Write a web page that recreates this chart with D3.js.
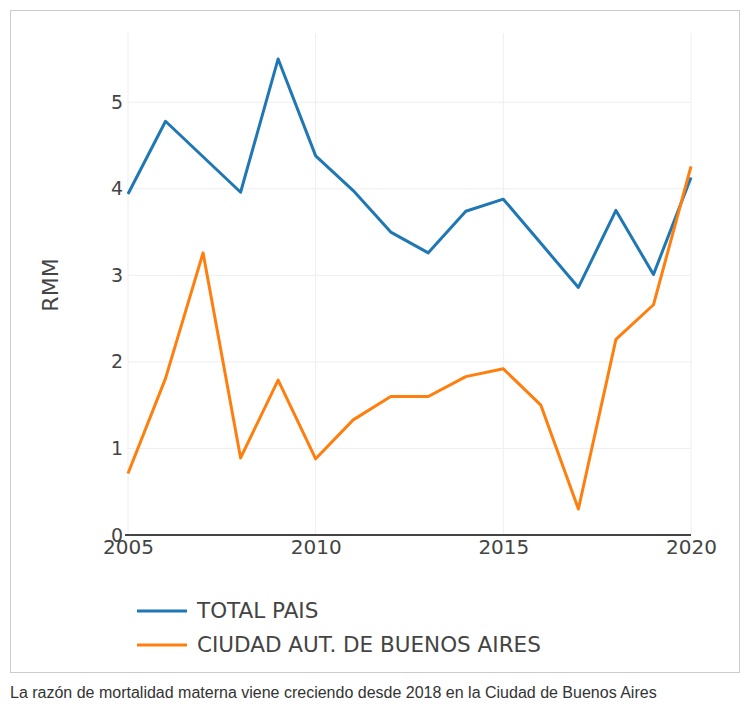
<!DOCTYPE html>
<html>
<head>
<meta charset="utf-8">
<script src="https://cdn.jsdelivr.net/npm/d3@7"></script>
<style>
  html, body { margin: 0; padding: 0; background: #fff; }
  svg { display: block; }
</style>
</head>
<body>
<svg id="chart" width="753" height="710"></svg>
<script>
const years = [2005,2006,2007,2008,2009,2010,2011,2012,2013,2014,2015,2016,2017,2018,2019,2020];
const totalPais = [3.94,4.78,4.37,3.96,5.50,4.38,3.98,3.50,3.26,3.74,3.88,3.37,2.86,3.75,3.01,4.13];
const caba = [0.71,1.81,3.26,0.89,1.79,0.88,1.33,1.60,1.60,1.83,1.92,1.50,0.30,2.26,2.66,4.26];
const seriesNames = ["TOTAL PAIS", "CIUDAD AUT. DE BUENOS AIRES"];
const seriesColors = ["#1f77b4", "#ff7f0e"];
const xTicks = [2005, 2010, 2015, 2020];
const yTicks = [0, 1, 2, 3, 4, 5];
const yTitle = "RMM";
const caption = "La razón de mortalidad materna viene creciendo desde 2018 en la Ciudad de Buenos Aires";

const svg = d3.select("#chart");
const font = "'DejaVu Sans', Verdana, sans-serif";

// outer frame
svg.append("rect").attr("x", 10.5).attr("y", 10.5).attr("width", 729).attr("height", 662)
  .attr("fill", "#fff").attr("stroke", "#cccccc").attr("stroke-width", 1);

const plot = {left: 128, right: 691, top: 33, bottom: 535};
const x = d3.scaleLinear().domain([2005, 2020]).range([plot.left, plot.right]);
const y = d3.scaleLinear().domain([0, 5.8]).range([plot.bottom, plot.top]);

// grid
const g = svg.append("g");
g.append("g").selectAll("line").data(xTicks).join("line")
  .attr("x1", d => x(d)).attr("x2", d => x(d)).attr("y1", plot.top).attr("y2", plot.bottom)
  .attr("stroke", "#eeeeee").attr("stroke-width", 1);
g.append("g").selectAll("line").data(yTicks.filter(d => d > 0)).join("line")
  .attr("x1", plot.left).attr("x2", plot.right).attr("y1", d => y(d)).attr("y2", d => y(d))
  .attr("stroke", "#eeeeee").attr("stroke-width", 1);

// y axis labels
const yAxis = d3.axisLeft(y).tickValues(yTicks).tickSize(0).tickPadding(5).tickFormat(d3.format("d"));
const ya = svg.append("g").attr("transform", `translate(${plot.left},0)`).call(yAxis);
ya.select(".domain").remove();
ya.selectAll("text").attr("font-family", font).attr("font-size", 19).attr("fill", "#444");

// x axis labels
const xAxis = d3.axisBottom(x).tickValues(xTicks).tickSize(0).tickPadding(5).tickFormat(d3.format("d"));
const xa = svg.append("g").attr("transform", `translate(0,${plot.bottom})`).call(xAxis);
xa.select(".domain").remove();
xa.selectAll("text").attr("font-family", font).attr("font-size", 20).attr("fill", "#444");

// zero line
svg.append("line").attr("x1", plot.left - 3).attr("x2", plot.right)
  .attr("y1", y(0)).attr("y2", y(0)).attr("stroke", "#444").attr("stroke-width", 2);

// y title
svg.append("text").attr("transform", `translate(58,285) rotate(-90)`)
  .attr("text-anchor", "middle").attr("font-family", font).attr("font-size", 22).attr("fill", "#444")
  .text(yTitle);

// lines
const line = d3.line().x((d, i) => x(years[i])).y(d => y(d));
[totalPais, caba].forEach((s, k) => {
  svg.append("path").datum(s).attr("d", line).attr("fill", "none")
    .attr("stroke", seriesColors[k]).attr("stroke-width", 3).attr("stroke-linejoin", "round");
});

// legend
const lg = svg.append("g");
seriesNames.forEach((n, k) => {
  const ly = 611 + k * 34;
  lg.append("line").attr("x1", 137).attr("x2", 187).attr("y1", ly).attr("y2", ly)
    .attr("stroke", seriesColors[k]).attr("stroke-width", 3);
  lg.append("text").attr("x", 197).attr("y", ly + 7).attr("font-family", font)
    .attr("font-size", 21.5).attr("fill", "#444").text(n);
});

// caption
svg.append("text").attr("x", 10).attr("y", 698).attr("font-family", "Arial, 'Liberation Sans', sans-serif")
  .attr("font-size", 16).attr("fill", "#333").text(caption);
</script>
</body>
</html>
